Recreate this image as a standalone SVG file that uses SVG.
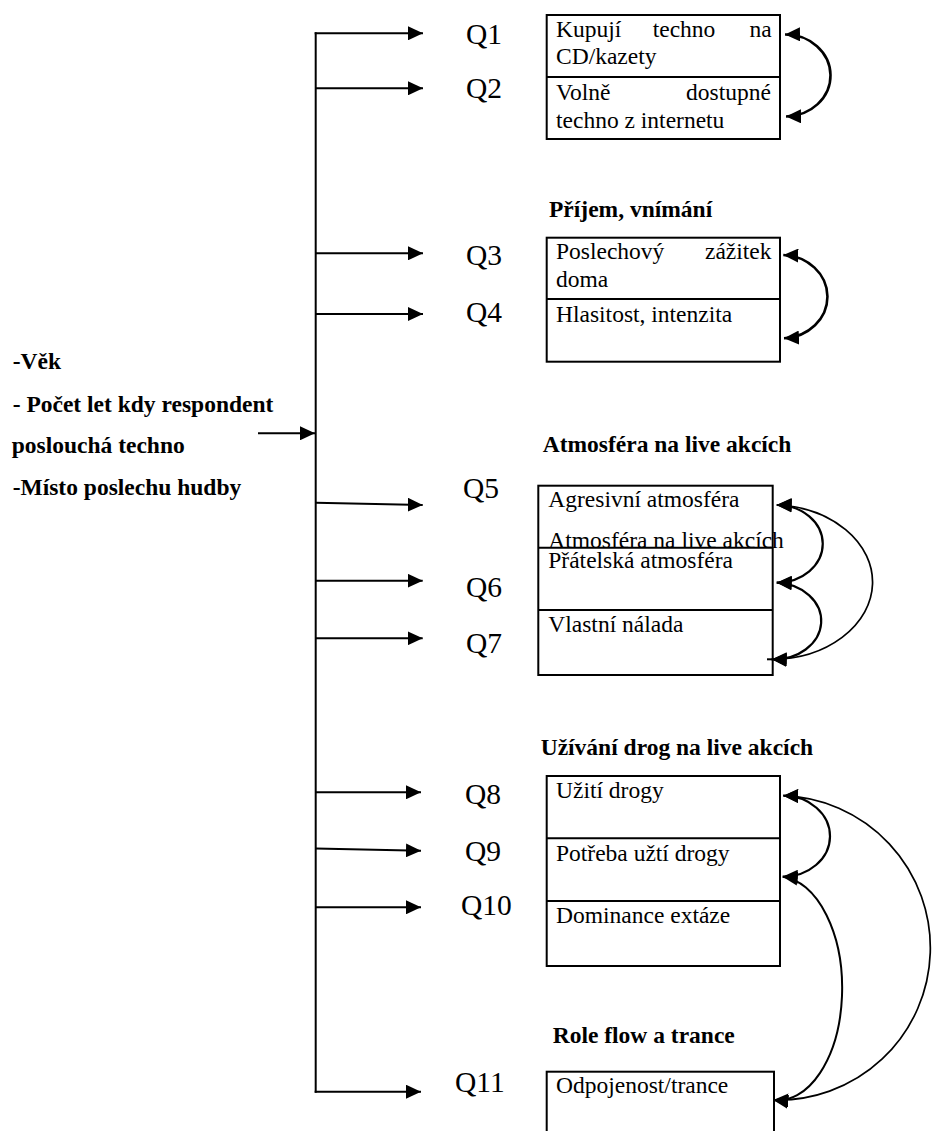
<svg xmlns="http://www.w3.org/2000/svg" width="936" height="1131" viewBox="0 0 936 1131">
<style>
  text { font-family: "Liberation Serif", "Times New Roman", serif; fill: #000; }
  .t { font-size: 23.5px; }
  .b { font-size: 23.5px; font-weight: bold; }
  .q { font-size: 29.5px; }
  .box { fill: #fff; stroke: #000; stroke-width: 2; }
  .div { stroke: #000; stroke-width: 2; fill: none; }
  .ln { stroke: #000; stroke-width: 2; fill: none; }
  .arc { stroke: #000; fill: none; }
</style>
<defs>
  <marker id="ah" viewBox="0 0 15 14" refX="15" refY="7" markerUnits="userSpaceOnUse" markerWidth="15" markerHeight="14" orient="auto-start-reverse">
    <path d="M0,0 L15,7 L0,14 z" fill="#000"/>
  </marker>
</defs>
<rect width="936" height="1131" fill="#fff"/>

<g id="factors">
  <text class="b" x="12.7" y="369.3">-Věk</text>
  <text class="b" x="12.7" y="411.7">- Počet let kdy respondent</text>
  <text class="b" x="11.7" y="453">poslouchá techno</text>
  <text class="b" x="12.7" y="495">-Místo poslechu hudby</text>
</g>

<g id="q-labels">
  <text class="q" x="466" y="44.3">Q1</text>
  <text class="q" x="466" y="98.3">Q2</text>
  <text class="q" x="466" y="265">Q3</text>
  <text class="q" x="466" y="321.7">Q4</text>
  <text class="q" x="463" y="498.3">Q5</text>
  <text class="q" x="466" y="596.7">Q6</text>
  <text class="q" x="466" y="652.7">Q7</text>
  <text class="q" x="465" y="804">Q8</text>
  <text class="q" x="465" y="860.7">Q9</text>
  <text class="q" x="461" y="915">Q10</text>
  <text class="q" x="455" y="1091.7">Q11</text>
</g>

<g id="heading-prijem"><text class="b" x="549" y="216.7">Příjem, vnímání</text></g>
<g id="heading-atmosfera"><text class="b" x="542.7" y="451.7">Atmosféra na live akcích</text></g>
<g id="heading-drogy"><text class="b" x="540.7" y="755">Užívání drog na live akcích</text></g>
<g id="heading-flow"><text class="b" x="552.7" y="1043.3">Role flow a trance</text></g>

<g id="box-nakup">
  <rect class="box" x="546.7" y="15" width="233.3" height="124"/>
  <line class="div" x1="546.7" y1="77" x2="780" y2="77"/>
  <text class="t" x="556" y="37.3">Kupují <tspan x="652.7">techno</tspan> <tspan x="749.5">na</tspan></text>
  <text class="t" x="556" y="64.3">CD/kazety</text>
  <text class="t" x="556" y="100">Volně <tspan x="686">dostupné</tspan></text>
  <text class="t" x="556" y="128">techno z internetu</text>
</g>

<g id="box-prijem">
  <rect class="box" x="546.7" y="237.7" width="233.3" height="124"/>
  <line class="div" x1="546.7" y1="299" x2="780" y2="299"/>
  <text class="t" x="556" y="259">Poslechový <tspan x="705">zážitek</tspan></text>
  <text class="t" x="556" y="287">doma</text>
  <text class="t" x="556" y="321.7">Hlasitost, intenzita</text>
</g>

<g id="box-atmosfera">
  <rect class="box" x="538.3" y="485.7" width="234.4" height="189.3"/>
  <line class="div" x1="538.3" y1="547.7" x2="772.7" y2="547.7"/>
  <line class="div" x1="538.3" y1="610" x2="772.7" y2="610"/>
  <text class="t" x="548.3" y="507.3">Agresivní atmosféra</text>
  <text class="t" x="548.3" y="548.3">Atmosféra na live akcích</text>
  <text class="t" x="548.3" y="568.3">Přátelská atmosféra</text>
  <text class="t" x="548.3" y="631.7">Vlastní nálada</text>
</g>

<g id="box-drogy">
  <rect class="box" x="546.7" y="776" width="233.3" height="190"/>
  <line class="div" x1="546.7" y1="838.3" x2="780" y2="838.3"/>
  <line class="div" x1="546.7" y1="901" x2="780" y2="901"/>
  <text class="t" x="556" y="798.3">Užití drogy</text>
  <text class="t" x="556" y="860.7">Potřeba užtí drogy</text>
  <text class="t" x="556" y="922.7">Dominance extáze</text>
</g>

<g id="box-trance">
  <rect class="box" x="546.7" y="1071.7" width="227.3" height="90"/>
  <text class="t" x="556" y="1093.3">Odpojenost/trance</text>
</g>

<g id="connectors">
  <line class="ln" x1="315.7" y1="32.3" x2="315.7" y2="1092.7"/>
  <line class="ln" x1="258" y1="433.3" x2="315" y2="433.3" marker-end="url(#ah)"/>
  <line class="ln" x1="314.7" y1="33.3" x2="423" y2="33.3" marker-end="url(#ah)"/>
  <line class="ln" x1="315.7" y1="88.3" x2="423" y2="88.3" marker-end="url(#ah)"/>
  <line class="ln" x1="315.7" y1="253.3" x2="423" y2="253.3" marker-end="url(#ah)"/>
  <line class="ln" x1="315.7" y1="314" x2="423" y2="314" marker-end="url(#ah)"/>
  <line class="ln" x1="315.7" y1="502.7" x2="422.7" y2="505" marker-end="url(#ah)"/>
  <line class="ln" x1="315.7" y1="580.7" x2="422.7" y2="580.7" marker-end="url(#ah)"/>
  <line class="ln" x1="315.7" y1="638.3" x2="422.7" y2="638.3" marker-end="url(#ah)"/>
  <line class="ln" x1="315.7" y1="792.3" x2="421" y2="792.3" marker-end="url(#ah)"/>
  <line class="ln" x1="315.7" y1="848.5" x2="421" y2="850.7" marker-end="url(#ah)"/>
  <line class="ln" x1="315.7" y1="907.3" x2="421" y2="907.3" marker-end="url(#ah)"/>
  <line class="ln" x1="314.7" y1="1091.7" x2="421" y2="1091.7" marker-end="url(#ah)"/>

  <path class="arc" stroke-width="2.6" d="M785,34.5 A45,41 0 0 1 786,116.5" marker-start="url(#ah)" marker-end="url(#ah)"/>
  <path class="arc" stroke-width="2.6" d="M783.3,255 A46,41.7 0 0 1 784,338.3" marker-start="url(#ah)" marker-end="url(#ah)"/>

  <path class="arc" stroke-width="2.2" d="M776.7,505 A46,38.8 0 0 1 776.7,582.7" marker-start="url(#ah)" marker-end="url(#ah)"/>
  <path class="arc" stroke-width="2.2" d="M776.7,582.7 A47,38.3 0 0 1 771.7,659.3" marker-start="url(#ah)" marker-end="url(#ah)"/>
  <path class="arc" stroke-width="1.7" d="M776.7,505 A101,77.2 0 0 1 771.7,659.3" marker-start="url(#ah)" marker-end="url(#ah)"/>
  <line class="ln" x1="767" y1="659.3" x2="772" y2="659.3"/>

  <path class="arc" stroke-width="2.2" d="M783.3,795.7 A47,40.5 0 0 1 782.7,876.7" marker-start="url(#ah)" marker-end="url(#ah)"/>
  <path class="arc" stroke-width="2" d="M782.7,876.7 A64,111.7 0 0 1 773.3,1100" marker-start="url(#ah)" marker-end="url(#ah)"/>
  <path class="arc" stroke-width="1.7" d="M783.3,795.7 A152,152.2 0 0 1 773.3,1100" marker-start="url(#ah)" marker-end="url(#ah)"/>
</g>
</svg>
